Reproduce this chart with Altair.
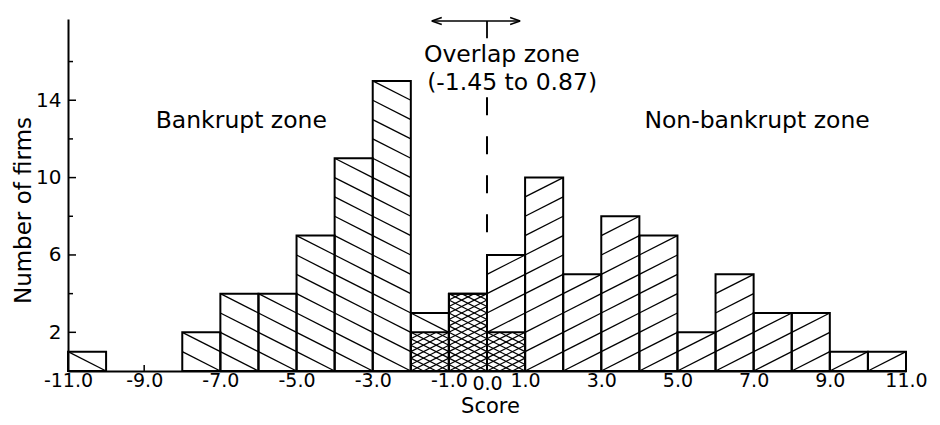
import math
import altair as alt
import pandas as pd

# ---------------- data ----------------
bin_left = list(range(-11, 11))          # bins of width 1 from -11 to 11
bankrupt = [1, 0, 0, 2, 4, 4, 7, 11, 15, 3, 4, 2, 0, 0, 0, 0, 0, 0, 0, 0, 0, 0]
nonbankrupt = [0, 0, 0, 0, 0, 0, 0, 0, 0, 2, 4, 6, 10, 5, 8, 7, 2, 5, 3, 3, 1, 1]

x_tick_values = [-11, -9, -7, -5, -3, -1, 0, 1, 3, 5, 7, 9, 11]
y_label_values = [2, 6, 10, 14]
y_minor_values = [4, 8, 12, 16]

overlap_low = -1.45
overlap_high = 0.87

zone_text = ["Bankrupt zone", "Non-bankrupt zone", "Overlap zone", "(-1.45 to 0.87)"]

# annotation placement (data units)
zone_x = [-6.45, 7.09, 0.39, 0.66]
zone_y = [12.93, 12.93, 16.34, 14.89]
arrow_y = 18.1
arrow_tick_bottom = 17.2
dash_top = 14.15
dash_bottom = 7.1

# ---------------- derived tables ----------------
rect_rows = []
for a, b, n in zip(bin_left, bankrupt, nonbankrupt):
    for v in (b, n):
        if v > 0:
            rect_rows.append(dict(x0=a, x1=a + 1, v=v, base=0))
rects = pd.DataFrame(rect_rows)


def hatch(x0, x1, y0, y1, s, step):
    """Lines y - s*x = k (k multiple of step) clipped to a rectangle."""
    segs = []
    if s > 0:
        kmin, kmax = y0 - x1, y1 - x0
    else:
        kmin, kmax = y0 + x0, y1 + x1
    n0 = math.ceil(kmin / step - 1e-9)
    n1 = math.floor(kmax / step + 1e-9)
    for m in range(n0, n1 + 1):
        k = m * step
        if s > 0:
            xa, xb = max(x0, y0 - k), min(x1, y1 - k)
        else:
            xa, xb = max(x0, k - y1), min(x1, k - y0)
        if xb - xa > 1e-6:
            segs.append(dict(xa=xa, ya=k + s * xa, xb=xb, yb=k + s * xb))
    return segs


single_rows, cross_rows = [], []
for a, b, n in zip(bin_left, bankrupt, nonbankrupt):
    lo = min(b, n)
    if lo > 0:
        cross_rows += hatch(a, a + 1, 0, lo, 1, 1 / 3)
        cross_rows += hatch(a, a + 1, 0, lo, -1, 1 / 3)
    if b > lo:
        single_rows += hatch(a, a + 1, lo, b, -1, 1)
    if n > lo:
        single_rows += hatch(a, a + 1, lo, n, 1, 1)
single_hatch = pd.DataFrame(single_rows)
cross_hatch = pd.DataFrame(cross_rows)

texts = pd.DataFrame(dict(label=zone_text, x=zone_x, y=zone_y))
arrow = pd.DataFrame(dict(lo=[overlap_low], hi=[overlap_high], y=[arrow_y],
                          mid=[0.0], yb=[arrow_tick_bottom]))
dash = pd.DataFrame(dict(x=[0.0], top=[dash_top], bottom=[dash_bottom]))
xt = pd.DataFrame(dict(x=x_tick_values))
ymaj = pd.DataFrame(dict(y=y_label_values))
ymin = pd.DataFrame(dict(y=y_minor_values))
head_l = pd.DataFrame(dict(x=[overlap_low], y=[arrow_y]))
head_r = pd.DataFrame(dict(x=[overlap_high], y=[arrow_y]))

# ---------------- scales / axes ----------------
W, H = 838, 352
xs = alt.Scale(domain=[-11, 11], nice=False, zero=False)
ys = alt.Scale(domain=[0, 18.2], nice=False, zero=False)

xaxis = alt.Axis(values=x_tick_values,
                 labelExpr="(datum.value < 0 ? '-' : '') + format(abs(datum.value), '.1f')",
                 labelFontSize=19,
                 labelPadding={"condition": {"test": "datum.value == 0", "value": 12}, "value": 9.5},
                 labelBaseline="middle", ticks=False, tickSize=0, labelOverlap=False,
                 labelFlush=False, domainColor="black", domainWidth=2, labelColor="black",
                 titleFontSize=21, titleFontWeight="normal", titleColor="black",
                 titleX=422, titleY=35, titleBaseline="middle", grid=False, zindex=1)
yaxis = alt.Axis(values=y_label_values, labelFontSize=20, labelPadding=7, ticks=False,
                 tickSize=0, domainColor="black", domainWidth=2, labelColor="black",
                 titleFontSize=23, titleFontWeight="normal", titleColor="black",
                 titleX=-45, titleY=191, titleAlign="center", titleBaseline="middle",
                 grid=False, zindex=1)


def X(f):
    return alt.X(f"{f}:Q", scale=xs, axis=xaxis, title="Score")


def Y(f):
    return alt.Y(f"{f}:Q", scale=ys, axis=yaxis, title="Number of firms")


x_ticks = alt.Chart(xt).mark_rule(color="black", strokeWidth=1.5).encode(
    x=X("x"), y=alt.value(H), y2=alt.value(H - 6))
y_major = alt.Chart(ymaj).mark_rule(color="black", strokeWidth=1.5).encode(
    y=Y("y"), x=alt.value(0), x2=alt.value(8))
y_minor = alt.Chart(ymin).mark_rule(color="black", strokeWidth=1.5).encode(
    y=Y("y"), x=alt.value(0), x2=alt.value(5))

fills = alt.Chart(rects).mark_rect(fill="white").encode(
    x=X("x0"), x2="x1", y=Y("v"), y2="base")
hatch1 = alt.Chart(single_hatch).mark_rule(color="black", strokeWidth=1.3).encode(
    x=X("xa"), y=Y("ya"), x2="xb", y2="yb")
hatch2 = alt.Chart(cross_hatch).mark_rule(color="black", strokeWidth=1.2).encode(
    x=X("xa"), y=Y("ya"), x2="xb", y2="yb")
outlines = alt.Chart(rects).mark_rect(fill="white", fillOpacity=0, stroke="black",
                                       strokeWidth=2).encode(
    x=X("x0"), x2="x1", y=Y("v"), y2="base")

dashed = alt.Chart(dash).mark_rule(color="black", strokeWidth=2, strokeDash=[18, 21]).encode(
    x=X("x"), y=Y("top"), y2="bottom")
arrow_line = alt.Chart(arrow).mark_rule(color="black", strokeWidth=1.5).encode(
    x=X("lo"), x2="hi", y=Y("y"))
arrow_tick = alt.Chart(arrow).mark_rule(color="black", strokeWidth=1.8).encode(
    x=X("mid"), y=Y("y"), y2="yb")
left_head = alt.Chart(head_l).mark_point(shape="M0,0L2,-0.7M0,0L2,0.7", size=100,
                                         filled=False, color="black", strokeWidth=1.5,
                                         opacity=1).encode(x=X("x"), y=Y("y"))
right_head = alt.Chart(head_r).mark_point(shape="M0,0L-2,-0.7M0,0L-2,0.7", size=100,
                                          filled=False, color="black", strokeWidth=1.5,
                                          opacity=1).encode(x=X("x"), y=Y("y"))

labels = alt.Chart(texts).mark_text(fontSize=23.5, align="center", baseline="middle",
                                    color="black").encode(
    x=X("x"), y=Y("y"), text="label:N")

chart = alt.layer(
    x_ticks, y_major, y_minor, fills, hatch1, hatch2, outlines,
    dashed, arrow_line, arrow_tick, left_head, right_head, labels
).properties(
    width=W, height=H, autosize="none",
    padding={"left": 60, "top": 11, "right": 26, "bottom": 46},
).configure(font="DejaVu Sans", background="white").configure_view(stroke=None)

chart.save("out.html", embed_options={"renderer": "svg", "actions": False})
